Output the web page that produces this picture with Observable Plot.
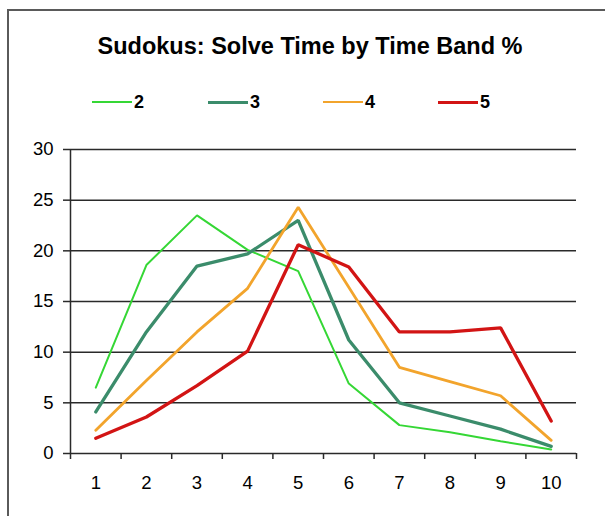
<!DOCTYPE html>
<html>
<head>
<meta charset="utf-8">
<script src="https://cdn.jsdelivr.net/npm/d3@7"></script>
<script src="https://cdn.jsdelivr.net/npm/@observablehq/plot@0.6"></script>
<style>
  html, body { margin: 0; padding: 0; background: #fff; }
  #wrap { position: relative; width: 605px; height: 516px; overflow: hidden; font-family: "Liberation Sans", Arial, sans-serif; }
  #frame { position: absolute; left: 7px; top: 9px; width: 620px; height: 530px; border-left: 2px solid #5a5a5a; border-top: 2px solid #5a5a5a; }
  #title { position: absolute; left: 0; width: 620px; top: 32px; text-align: center; font-size: 23.5px; line-height: 28px; font-weight: bold; color: #000; }
  .leg { position: absolute; top: 92px; height: 20px; display: flex; align-items: center; font-size: 18px; font-weight: bold; color: #000; }
  .leg .sw { width: 40px; margin-right: 2px; }
  #chart { position: absolute; left: 0; top: 130px; }
</style>
</head>
<body>
<div id="wrap">
  <div id="frame"></div>
  <div id="title"></div>
  <div id="legend"></div>
  <div id="chart"></div>
</div>
<script>
const title = "Sudokus: Solve Time by Time Band %";
const bands = [1, 2, 3, 4, 5, 6, 7, 8, 9, 10];
const seriesNames = ["2", "3", "4", "5"];
const s2 = [6.5, 18.6, 23.5, 20.1, 18.0, 6.9, 2.8, 2.1, 1.2, 0.4];
const s3 = [4.1, 12.0, 18.5, 19.7, 23.0, 11.2, 5.0, 3.7, 2.4, 0.7];
const s4 = [2.3, 7.2, 12.0, 16.3, 24.3, 16.4, 8.5, 7.1, 5.7, 1.3];
const s5 = [1.5, 3.6, 6.7, 10.1, 20.6, 18.4, 12.0, 12.0, 12.4, 3.2];
const yTicks = [0, 5, 10, 15, 20, 25, 30];

const colors = ["#35d735", "#3b8c6b", "#f2a42c", "#d21414"];
const widths = [2, 3.3, 2.8, 3.3];
const legendX = [92, 208, 323, 438];

document.getElementById("title").textContent = title;

const legend = document.getElementById("legend");
seriesNames.forEach((n, i) => {
  const d = document.createElement("div");
  d.className = "leg";
  d.style.left = legendX[i] + "px";
  const sw = document.createElement("div");
  sw.className = "sw";
  sw.style.borderTop = widths[i] + "px solid " + colors[i];
  const t = document.createElement("span");
  t.textContent = n;
  d.appendChild(sw); d.appendChild(t);
  legend.appendChild(d);
});

const allSeries = [s2, s3, s4, s5];
const rows = [];
allSeries.forEach((vals, i) => vals.forEach((v, j) => rows.push({band: bands[j], value: v, series: seriesNames[i]})));

const xDomain = [bands[0] - 0.5, bands[bands.length - 1] + 0.5];
const boundaries = bands.map(b => b - 0.5).concat([xDomain[1]]);

const marks = [
  Plot.gridY(yTicks.filter(t => t > 0), {stroke: "#2a2a2a", strokeOpacity: 1, strokeWidth: 1.5}),
  Plot.ruleY([yTicks[0]], {stroke: "#2a2a2a", strokeWidth: 1.5}),
  Plot.ruleX([xDomain[0]], {y1: yTicks[0], y2: yTicks[yTicks.length - 1], stroke: "#2a2a2a", strokeWidth: 1.5}),
  Plot.axisY(yTicks, {tickSize: 7, tickPadding: 10, fontSize: 18.5, stroke: "#2a2a2a", strokeWidth: 1.5, label: null, fill: "#000"}),
  Plot.axisX(boundaries, {tickSize: 6, tickFormat: () => "", stroke: "#2a2a2a", strokeWidth: 1.5, label: null}),
  Plot.axisX(bands, {tickSize: 0, tickPadding: 22, fontSize: 18.5, label: null, fill: "#000"})
];
seriesNames.forEach((n, i) => {
  marks.push(Plot.line(rows.filter(r => r.series === n), {x: "band", y: "value", stroke: colors[i], strokeWidth: widths[i], strokeLinejoin: "miter"}));
});

const chart = Plot.plot({
  width: 605,
  height: 363,
  marginLeft: 70,
  marginRight: 29,
  marginTop: 19,
  marginBottom: 40,
  style: {fontFamily: "'Liberation Sans', Arial, sans-serif", fontSize: "18.5px", background: "transparent", overflow: "visible"},
  x: {domain: xDomain, type: "linear"},
  y: {domain: [yTicks[0], yTicks[yTicks.length - 1]]},
  marks
});
document.getElementById("chart").appendChild(chart);
</script>
</body>
</html>
